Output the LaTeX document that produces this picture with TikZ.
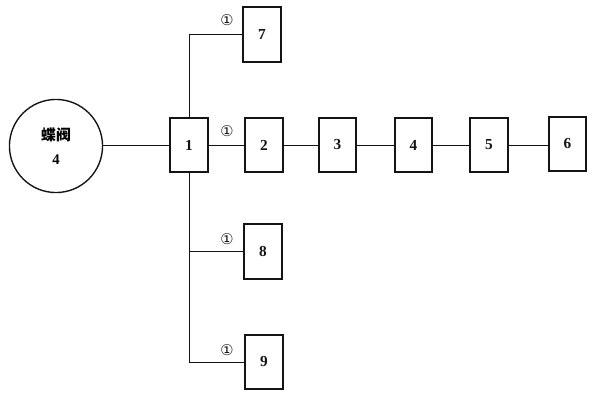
\documentclass[tikz,border=0pt]{standalone}
\usepackage{fontspec}
\setmainfont{Liberation Serif}
\newfontfamily\cjkfont{Noto Sans CJK SC}
\newfontfamily\symfont{DejaVu Sans}
\usepackage{xcolor}
\definecolor{lineDark}{RGB}{20, 20, 20}
\usepackage{tikz}
\usetikzlibrary{
    positioning,
    calc
}

\begin{document}
\begin{tikzpicture}[
    x=0.0333cm, y=-0.0333cm,
    unitBox/.style={
        rectangle, draw=lineDark, line width=1.6pt,
        fill=white, text=lineDark,
        font=\fontsize{14.5}{16}\selectfont\bfseries,
        minimum width=1.25cm, minimum height=1.82cm, inner sep=0pt
    },
    valveCircle/.style={
        circle, draw=lineDark, line width=1.3pt,
        font=\fontsize{14}{19}\selectfont\bfseries,
        align=center, minimum size=3.1cm, inner sep=0pt
    },
    linkLine/.style={
        draw=lineDark, line width=0.6pt
    },
    markLabel/.style={
        font=\symfont\fontsize{14}{15}\selectfont, text=lineDark, inner sep=0pt
    }
]

    % Frame
    \useasboundingbox (0,0) rectangle (600,396);

    % Valve
    \node[valveCircle] (valve) at (56,146) {{\cjkfont\bfseries 蝶阀}\\[4pt]4};

    % Main chain
    \node[unitBox] (u1) at (189,145) {1};
    \node[unitBox] (u2) at (264,145) {2};
    \node[unitBox] (u3) at (337.5,145) {3};
    \node[unitBox] (u4) at (413.5,145) {4};
    \node[unitBox] (u5) at (489,145) {5};
    \node[unitBox] (u6) at (567.5,144) {6};

    % Branch units
    \node[unitBox] (u7) at (262,34.5) {7};
    \node[unitBox] (u8) at (263,251.5) {8};
    \node[unitBox] (u9) at (264,362) {9};

    % Connections
    \draw[linkLine] (valve.east |- u1.west) -- (u1.west);
    \draw[linkLine] (u1.east) -- (u2.west);
    \draw[linkLine] (u2.east) -- (u3.west);
    \draw[linkLine] (u3.east) -- (u4.west);
    \draw[linkLine] (u4.east) -- (u5.west);
    \draw[linkLine] (u5.east) -- (u5.east -| u6.west);
    \draw[linkLine] (u1.north) |- (u7.west);
    \draw[linkLine] (u1.south) |- (u8.west);
    \draw[linkLine] (u1.south) |- (u9.west);

    % Marks
    \node[markLabel] (m7) at (227,20) {①};
    \node[markLabel] (m2) at (227,131) {①};
    \node[markLabel] (m8) at (227,239) {①};
    \node[markLabel] (m9) at (227,350) {①};

\end{tikzpicture}
\end{document}
